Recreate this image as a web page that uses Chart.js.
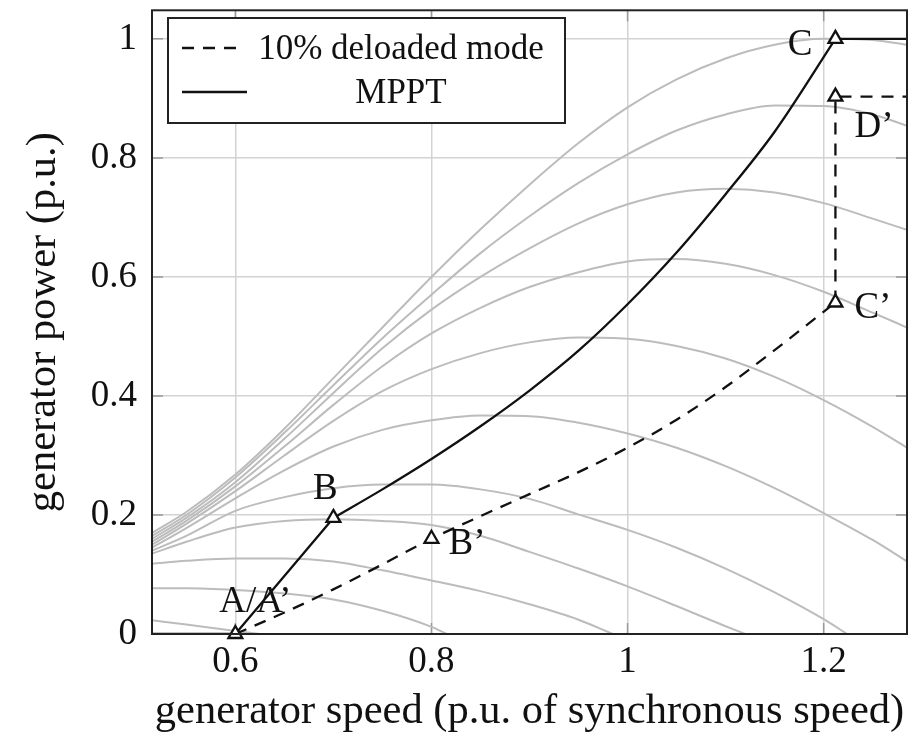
<!DOCTYPE html>
<html>
<head>
<meta charset="utf-8">
<script src="https://cdn.jsdelivr.net/npm/chart.js@4.4.1/dist/chart.umd.min.js"></script>
<style>
  html, body { margin: 0; padding: 0; background: #fff; }
</style>
</head>
<body>
<canvas id="chart" width="920" height="739"></canvas>
<script>
// ---- values ----
const xTicks = [0.6, 0.8, 1, 1.2];
const yTicks = [0, 0.2, 0.4, 0.6, 0.8, 1];

const gridSpeed = [0.515, 0.55, 0.6, 0.65, 0.7, 0.75, 0.8, 0.85, 0.9, 0.95, 1.0, 1.05, 1.1, 1.15, 1.2, 1.25, 1.285];

// turbine power curves (one per wind speed), highest first
const windSpeeds = [
  gridSpeed,
  gridSpeed,
  gridSpeed,
  gridSpeed,
  gridSpeed,
  gridSpeed,
  [0.515, 0.55, 0.6, 0.65, 0.7, 0.75, 0.8, 0.85, 0.9, 0.95, 1.0, 1.05, 1.1, 1.15, 1.2, 1.224],
  [0.515, 0.55, 0.6, 0.65, 0.7, 0.75, 0.8, 0.85, 0.9, 0.95, 1.0, 1.05, 1.1, 1.12],
  [0.515, 0.55, 0.6, 0.65, 0.7, 0.75, 0.8, 0.85, 0.9, 0.95, 0.985],
  [0.515, 0.55, 0.6, 0.65, 0.7, 0.75, 0.8, 0.816],
  [0.515, 0.55, 0.6, 0.625]
];
const windPowers = [
  [0.17, 0.205, 0.268, 0.345, 0.43, 0.515, 0.6, 0.68, 0.755, 0.825, 0.885, 0.932, 0.967, 0.99, 1.0, 0.998, 0.99],
  [0.165, 0.2, 0.263, 0.338, 0.418, 0.497, 0.57, 0.64, 0.702, 0.758, 0.806, 0.846, 0.873, 0.888, 0.887, 0.873, 0.854],
  [0.16, 0.195, 0.255, 0.328, 0.405, 0.48, 0.545, 0.6, 0.648, 0.69, 0.722, 0.742, 0.748, 0.742, 0.724, 0.698, 0.679],
  [0.155, 0.19, 0.248, 0.315, 0.385, 0.45, 0.505, 0.548, 0.583, 0.608, 0.626, 0.63, 0.622, 0.603, 0.575, 0.54, 0.515],
  [0.15, 0.185, 0.24, 0.3, 0.358, 0.408, 0.445, 0.472, 0.49, 0.498, 0.496, 0.484, 0.463, 0.432, 0.393, 0.348, 0.313],
  [0.145, 0.178, 0.228, 0.275, 0.315, 0.343, 0.359, 0.367, 0.366, 0.355, 0.337, 0.313, 0.282, 0.245, 0.203, 0.158, 0.122],
  [0.14, 0.165, 0.207, 0.23, 0.245, 0.251, 0.251, 0.243, 0.227, 0.201, 0.175, 0.145, 0.11, 0.07, 0.025, 0],
  [0.135, 0.155, 0.179, 0.19, 0.193, 0.19, 0.183, 0.165, 0.138, 0.11, 0.08, 0.047, 0.013, 0],
  [0.118, 0.123, 0.127, 0.127, 0.122, 0.107, 0.09, 0.072, 0.05, 0.024, 0],
  [0.077, 0.077, 0.074, 0.068, 0.058, 0.039, 0.012, 0],
  [0.023, 0.016, 0.005, 0]
];

// MPPT: flat at zero, straight ramp A->B, smooth curve B->C, flat after C
const mpptRampSpeed = [0.515, 0.6, 0.7];
const mpptRampPower = [0, 0, 0.195];
const mpptCurveSpeed = [0.7, 0.75, 0.8, 0.85, 0.9, 0.95, 1.0, 1.05, 1.1, 1.15, 1.212];
const mpptCurvePower = [0.195, 0.243, 0.294, 0.349, 0.409, 0.476, 0.554, 0.641, 0.739, 0.844, 1.0];
const mpptTopSpeed = [1.212, 1.285];
const mpptTopPower = [1.0, 1.0];

// 10% deloaded: curve A'->C', then straight up to D' and flat
const deloadCurveSpeed = [0.6, 0.65, 0.7, 0.75, 0.8, 0.85, 0.9, 0.95, 1.0, 1.05, 1.1, 1.15, 1.212];
const deloadCurvePower = [0, 0.036, 0.075, 0.117, 0.16, 0.198, 0.235, 0.272, 0.313, 0.36, 0.415, 0.477, 0.557];
const deloadStepSpeed = [1.212, 1.212, 1.285];
const deloadStepPower = [0.557, 0.903, 0.903];

const markerSpeed = [0.6, 0.7, 0.8, 1.212, 1.212, 1.212];
const markerPower = [0, 0.195, 0.16, 1.0, 0.557, 0.903];
const markerNames = ["A/A\u2019", "B", "B\u2019", "C", "C\u2019", "D\u2019"];

const seriesNames = ["10% deloaded mode", "MPPT"];

// ---- styling ----
const FONT = "'Liberation Serif', 'Times New Roman', serif";
const GRAY = "#bcbcbc";
const GRID = "#d3d3d3";
const INK = "#111";

// label placement relative to each marker (px), and alignment
const labelOffsets = [[20, -22, "center"], [-8, -19, "center"], [17, 15, "left"], [-23, 16, "right"], [19, 15, "left"], [19, 40, "left"]];

const toPts = (xs, ys) => xs.map((x, i) => ({ x: x, y: ys[i] }));

const dashed = { borderColor: INK, borderWidth: 2.3, borderDash: [12, 9], pointRadius: 0, order: 1 };
const solid = { borderColor: INK, borderWidth: 2.3, pointRadius: 0, order: 1 };

const datasets = [
  Object.assign({ label: seriesNames[0], data: toPts(deloadCurveSpeed, deloadCurvePower), cubicInterpolationMode: "monotone", inLegend: true }, dashed),
  Object.assign({ label: seriesNames[1], data: toPts(mpptRampSpeed, mpptRampPower), tension: 0, inLegend: true }, solid),
  Object.assign({ label: "", data: toPts(deloadStepSpeed, deloadStepPower), tension: 0 }, dashed),
  Object.assign({ label: "", data: toPts(mpptCurveSpeed, mpptCurvePower), cubicInterpolationMode: "monotone" }, solid),
  Object.assign({ label: "", data: toPts(mpptTopSpeed, mpptTopPower), tension: 0 }, solid),
  {
    label: "", data: toPts(markerSpeed, markerPower), showLine: false,
    pointStyle: "triangle", pointRadius: 8, borderColor: INK, borderWidth: 2.3,
    pointBackgroundColor: "#fff", backgroundColor: "#fff", order: 0, clip: false
  }
];
windPowers.forEach((p, i) => {
  datasets.push({
    label: "", data: toPts(windSpeeds[i], p),
    borderColor: GRAY, borderWidth: 2, pointRadius: 0, cubicInterpolationMode: "monotone", order: 5
  });
});

const frameAndTicks = {
  id: "frameAndTicks",
  beforeDatasetsDraw(chart) {
    const { ctx, chartArea: a, scales } = chart;
    ctx.save();
    ctx.strokeStyle = "#999";
    ctx.lineWidth = 1.5;
    const L = 11;
    xTicks.forEach(v => {
      const px = scales.x.getPixelForValue(v);
      ctx.beginPath();
      ctx.moveTo(px, a.bottom); ctx.lineTo(px, a.bottom - L);
      ctx.moveTo(px, a.top); ctx.lineTo(px, a.top + L);
      ctx.stroke();
    });
    yTicks.forEach(v => {
      const py = scales.y.getPixelForValue(v);
      ctx.beginPath();
      ctx.moveTo(a.left, py); ctx.lineTo(a.left + L, py);
      ctx.moveTo(a.right, py); ctx.lineTo(a.right - L, py);
      ctx.stroke();
    });
    ctx.restore();
  },
  afterDatasetsDraw(chart) {
    const { ctx, chartArea: a, scales } = chart;
    ctx.save();
    ctx.strokeStyle = "#222";
    ctx.lineWidth = 2;
    ctx.strokeRect(a.left, a.top, a.right - a.left, a.bottom - a.top);

    // marker labels
    ctx.fillStyle = INK;
    ctx.font = "37px " + FONT;
    ctx.textBaseline = "alphabetic";
    markerNames.forEach((name, i) => {
      const px = scales.x.getPixelForValue(markerSpeed[i]);
      const py = scales.y.getPixelForValue(markerPower[i]);
      const off = labelOffsets[i];
      ctx.textAlign = off[2];
      ctx.fillText(name, px + off[0], py + off[1]);
    });
    ctx.restore();
  }
};

const boxLegend = {
  id: "boxLegend",
  afterDraw(chart) {
    const { ctx } = chart;
    const items = chart.data.datasets.filter(d => d.inLegend);
    const box = { x: 168, y: 18, w: 397, h: 105 };
    ctx.save();
    ctx.fillStyle = "#fff";
    ctx.fillRect(box.x, box.y, box.w, box.h);
    ctx.strokeStyle = "#222";
    ctx.lineWidth = 2;
    ctx.strokeRect(box.x, box.y, box.w, box.h);
    ctx.font = "35px " + FONT;
    ctx.textBaseline = "middle";
    ctx.textAlign = "center";
    const rows = [48, 92];
    items.forEach((d, i) => {
      const y = rows[i];
      ctx.strokeStyle = d.borderColor;
      ctx.lineWidth = d.borderWidth;
      ctx.setLineDash(d.borderDash || []);
      ctx.beginPath();
      ctx.moveTo(182, y);
      ctx.lineTo(d.borderDash ? 238 : 247, y);
      ctx.stroke();
      ctx.setLineDash([]);
      ctx.fillStyle = INK;
      ctx.fillText(d.label, 401, y + 2);
    });
    ctx.restore();
  }
};

const noEdgePadding = s => { s.paddingTop = 0; s.paddingBottom = 0; s.paddingLeft = 0; s.paddingRight = 0; };

new Chart(document.getElementById("chart"), {
  type: "line",
  data: { datasets: datasets },
  options: {
    responsive: false,
    animation: false,
    events: [],
    devicePixelRatio: 1,
    layout: { padding: { top: 5, right: 13, left: 0, bottom: 0 } },
    plugins: { legend: { display: false }, tooltip: { enabled: false } },
    scales: {
      x: {
        type: "linear", min: 0.515, max: 1.285,
        afterBuildTicks: s => { s.ticks = xTicks.map(v => ({ value: v })); },
        afterFit: s => { s.height = 105; noEdgePadding(s); },
        grid: { color: GRID, lineWidth: 1.5, drawTicks: false },
        border: { display: false },
        ticks: {
          color: INK, padding: 6, maxRotation: 0, autoSkip: false,
          font: { family: FONT, size: 37 },
          callback: v => String(Math.round(v * 10) / 10)
        },
        title: {
          display: true, text: "generator speed (p.u. of synchronous speed)",
          color: INK, font: { family: FONT, size: 42.5 }, padding: { top: 0, bottom: 2 }
        }
      },
      y: {
        type: "linear", min: 0, max: 1.048,
        afterBuildTicks: s => { s.ticks = yTicks.map(v => ({ value: v })); },
        afterFit: s => { s.width = 152; noEdgePadding(s); },
        grid: { color: GRID, lineWidth: 1.5, drawTicks: false },
        border: { display: false },
        ticks: {
          color: INK, padding: 15,
          font: { family: FONT, size: 37 },
          callback: v => String(Math.round(v * 10) / 10)
        },
        title: {
          display: true, text: "generator power (p.u.)",
          color: INK, font: { family: FONT, size: 42.5 }, padding: { top: 18, bottom: 0 }
        }
      }
    }
  },
  plugins: [frameAndTicks, boxLegend]
});
</script>
</body>
</html>
